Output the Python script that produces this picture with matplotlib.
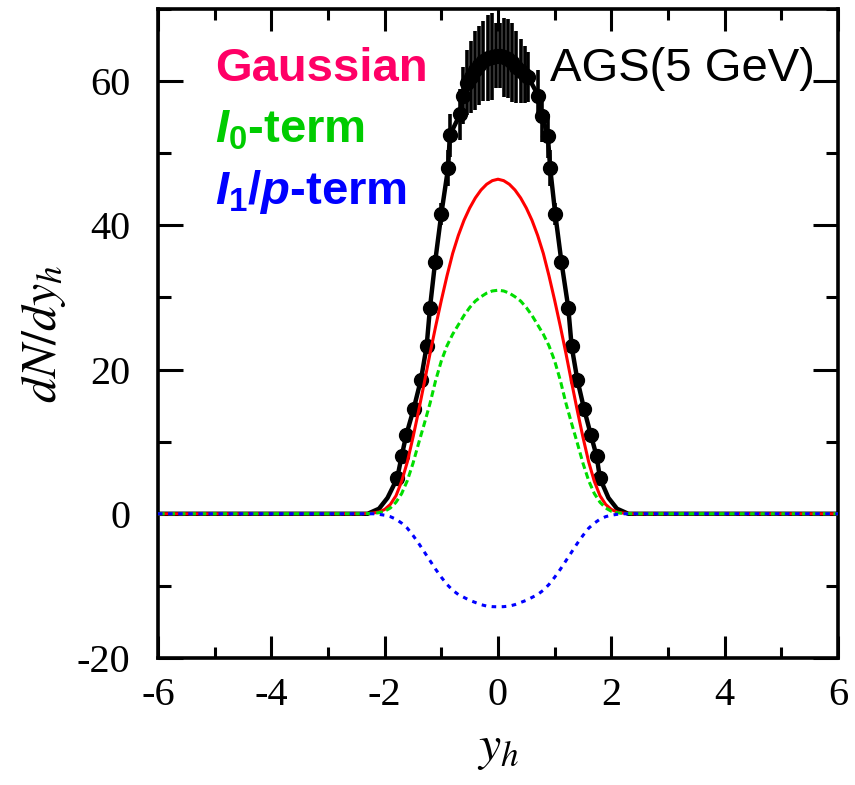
import matplotlib
matplotlib.use("Agg")
import matplotlib.pyplot as plt
import numpy as np

#----- Data -----
# measured dN/dy_h points (with error bars)
y_pts = [-1.78, -1.70, -1.62, -1.49, -1.36, -1.26, -1.20, -1.11, -1.00, -0.88, -0.85,
         -0.67, -0.62, -0.55, -0.48, -0.40, -0.33, -0.26, -0.18, -0.10, -0.03,
         0.04, 0.11, 0.18, 0.25, 0.32, 0.40, 0.47, 0.53, 0.71, 0.78, 0.88, 0.92,
         1.01, 1.12, 1.24, 1.30, 1.40, 1.52, 1.64, 1.74, 1.80]
dn_pts = [4.9, 8.0, 10.9, 14.5, 18.6, 23.2, 28.6, 34.9, 41.6, 48.0, 52.5,
          55.4, 58.0, 59.8, 60.6, 61.5, 62.2, 62.8, 63.2, 63.4, 63.5,
          63.5, 63.3, 63.1, 62.6, 62.0, 61.4, 60.9, 60.6, 58.0, 55.1, 52.4, 48.0,
          41.6, 34.9, 28.6, 23.2, 18.6, 14.5, 10.9, 8.0, 4.9]
dn_err = [0.5, 0.5, 0.5, 0.5, 0.5, 0.5, 0.8, 1.0, 1.5, 2.5, 3.0,
          3.5, 4.0, 4.5, 5.0, 5.5, 5.5, 5.5, 6.0, 6.0, 4.5,
          4.5, 5.5, 5.5, 5.5, 5.0, 4.5, 4.0, 3.5, 3.5, 3.5, 3.0, 2.5,
          1.5, 1.0, 0.8, 0.5, 0.5, 0.5, 0.5, 0.5, 0.5]

# tails of the black total curve
tail_left_x = [-6.0, -2.30, -2.10, -1.95]
tail_left_y = [0.0, 0.0, 0.7, 2.2]
tail_right_x = [1.95, 2.10, 2.30, 6.0]
tail_right_y = [2.2, 0.7, 0.0, 0.0]

# model components, sampled at |y_h| (symmetric)
abs_y = [0.0, 0.1, 0.2, 0.3, 0.4, 0.5, 0.6, 0.7, 0.8, 0.9, 1.0, 1.1, 1.2,
         1.3, 1.4, 1.5, 1.6, 1.7, 1.8, 1.9, 2.0, 2.1, 2.2, 2.4, 6.0]
gauss = [46.4, 46.2, 45.7, 44.9, 43.8, 42.4, 40.7, 38.6, 36.1, 33.0, 29.6, 26.0, 22.2,
         18.2, 14.3, 10.6, 7.2, 4.5, 2.5, 1.3, 0.6, 0.25, 0.1, 0.0, 0.0]
i0_term = [31.0, 30.9, 30.6, 30.1, 29.5, 28.6, 27.5, 26.2, 24.9, 23.3, 21.2, 18.5, 15.3,
           12.5, 9.8, 7.0, 4.6, 2.8, 1.6, 0.8, 0.35, 0.15, 0.05, 0.0, 0.0]
i1_term = [-12.9, -12.88, -12.8, -12.6, -12.3, -12.0, -11.6, -11.2, -10.6, -9.8, -8.8, -7.7, -6.5,
           -5.3, -4.1, -3.0, -2.0, -1.3, -0.75, -0.4, -0.2, -0.08, 0.0, 0.0, 0.0]

def mirror(xs, vs):
    xs = np.array(xs)
    vs = np.array(vs)
    return np.concatenate([-xs[::-1], xs[1:]]), np.concatenate([vs[::-1], vs[1:]])

#----- Style -----
plt.rcParams.update({
    "axes.unicode_minus": False,
    "font.family": "Liberation Serif",
    "mathtext.fontset": "custom",
    "mathtext.rm": "Liberation Sans:bold",
    "mathtext.it": "Liberation Sans:italic:bold",
    "mathtext.bf": "Liberation Sans:bold",
})

fig = plt.figure(figsize=(8.55, 7.85), dpi=100)
ax = fig.add_axes([0.1848, 0.1618, 0.7953, 0.8267])

# black total curve through the points
line_x = tail_left_x + y_pts + tail_right_x
line_y = tail_left_y + dn_pts + tail_right_y
ax.plot(line_x, line_y, color="black", lw=3.2, zorder=2)
ax.errorbar(y_pts, dn_pts, yerr=dn_err, fmt="o", color="black", ms=10,
            elinewidth=2.6, capsize=0, zorder=3)

gx, gy = mirror(abs_y, gauss)
ax.plot(gx, gy, color="#ff0000", lw=2.2, zorder=4)
ix, iy = mirror(abs_y, i0_term)
ax.plot(ix, iy, color="#00dd00", lw=2.2, ls=(0, (2.2, 1.2)), zorder=4)
bx, by = mirror(abs_y, i1_term)
ax.plot(bx, by, color="#0000ff", lw=2.2, ls=(0, (1.5, 1.8)), zorder=4)

#----- Axes -----
ax.set_xlim(-6, 6)
ax.set_ylim(-20, 70)
ax.set_xticks([-6, -4, -2, 0, 2, 4, 6])
ax.set_xticks(np.arange(-6, 7, 1), minor=True)
ax.set_yticks([-20, 0, 20, 40, 60])
ax.set_yticks(np.arange(-20, 71, 10), minor=True)

for s in ax.spines.values():
    s.set_linewidth(2.6)
ax.tick_params(which="both", direction="in", top=True, right=True, width=2.2)
ax.tick_params(axis="x", which="major", length=16, pad=14, labelsize=29)
ax.tick_params(axis="x", which="minor", length=8)
ax.tick_params(axis="y", which="major", length=18, pad=20, labelsize=29)
ax.tick_params(axis="y", which="minor", length=9)

ax.set_xlabel(r"$y_h$", fontsize=36, labelpad=8, math_fontfamily="stix")
ax.set_ylabel(r"$dN/dy_h$", fontsize=36, labelpad=6, math_fontfamily="stix")

#----- Labels -----
sans = "Liberation Sans"
ax.text(0.084, 0.889, "Gaussian", transform=ax.transAxes, color="#ff0066",
        fontsize=34, fontweight="bold", family=sans)
ax.text(0.084, 0.794, r"$I_{\mathrm{0}}$-term", transform=ax.transAxes,
        color="#00cc00", fontsize=34, fontweight="bold", family=sans)
ax.text(0.084, 0.70, r"$I_{\mathrm{1}}/p$-term", transform=ax.transAxes,
        color="#0000ff", fontsize=34, fontweight="bold", family=sans)
ax.text(0.576, 0.889, "AGS(5 GeV)", transform=ax.transAxes, color="black",
        fontsize=34, family=sans)

fig.savefig("out.png", dpi=100)
